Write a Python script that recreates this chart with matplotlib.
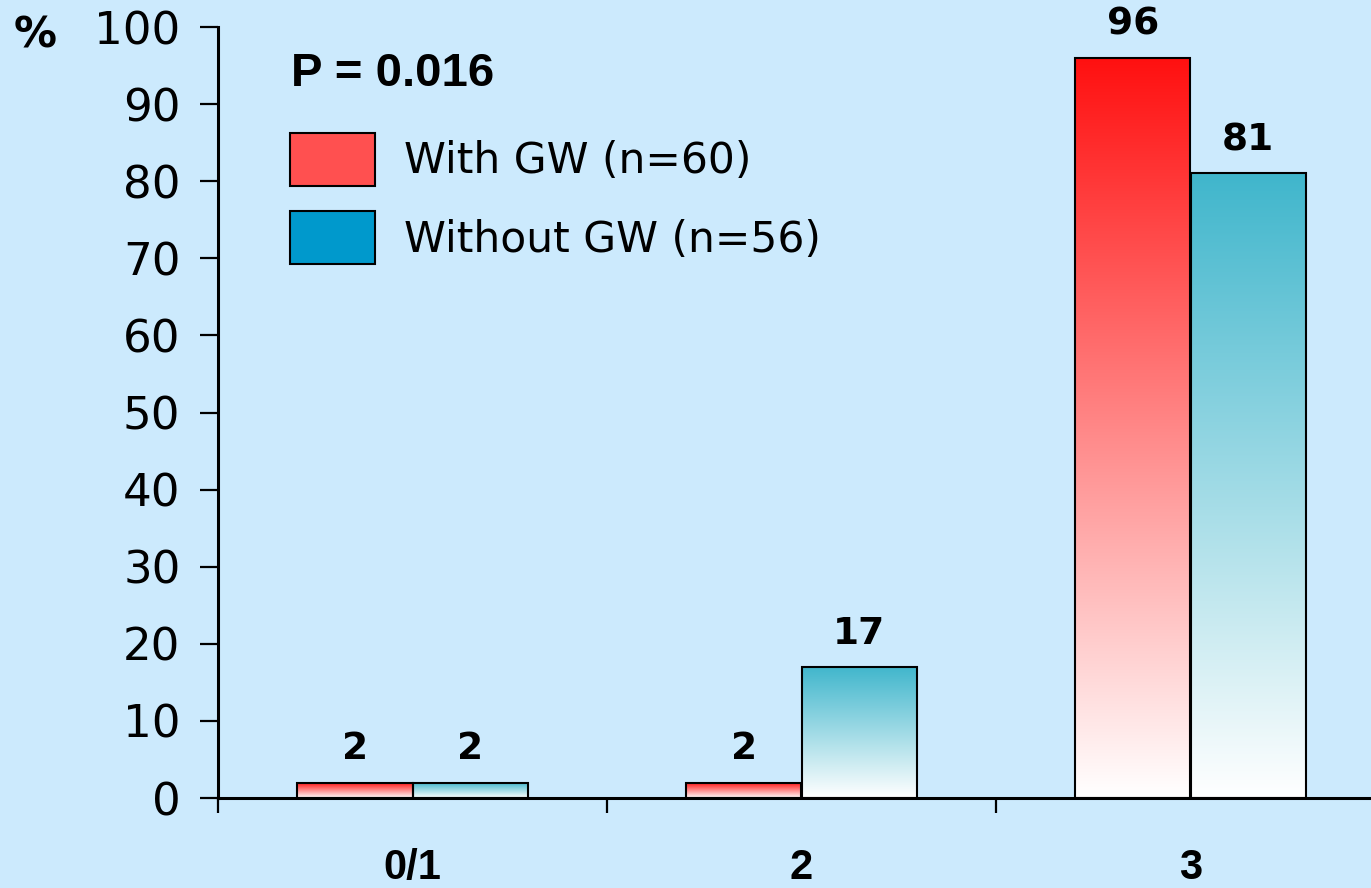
import numpy as np
import matplotlib
matplotlib.use("Agg")
import matplotlib.pyplot as plt
from matplotlib.patches import Patch
from matplotlib.colors import to_rgb

# data
categories = ["0/1", "2", "3"]
with_gw = [2, 2, 96]
without_gw = [2, 17, 81]
series_names = ["With GW (n=60)", "Without GW (n=56)"]
p_text = "P = 0.016"

bg = "#cceafd"
red_top = "#ff1010"
teal_top = "#40b6cc"
red_legend = "#ff5050"
teal_legend = "#0099cc"

fig = plt.figure(figsize=(13.71, 8.88), dpi=100, facecolor=bg)
ax = fig.add_axes([218 / 1371, 90 / 888, 1153 / 1371, 771 / 888])
ax.set_facecolor(bg)


def gradient_bar(x0, w, h, top_color):
    # vertical fade: colour at the top, white at the bottom
    top = np.array(to_rgb(top_color))
    t = np.linspace(1, 0, 256)[:, None]
    img = t * top + (1 - t) * np.ones(3)
    img = img[:, None, :]
    ax.imshow(img, extent=[x0, x0 + w, 0, h], aspect="auto", origin="upper",
              interpolation="bilinear", zorder=2)


width = 0.296
centers = np.arange(len(categories)) + 0.5
for vals, off, col in [(with_gw, -width / 2, red_top), (without_gw, width / 2, teal_top)]:
    xs = centers + off
    for x, v in zip(xs, vals):
        gradient_bar(x - width / 2, width, v, col)
    ax.bar(xs, vals, width, facecolor="none", edgecolor="black", linewidth=1.5, zorder=3)
    for x, v in zip(xs, vals):
        ax.annotate(str(v), (x, v), xytext=(0, 11), textcoords="offset points",
                    ha="center", va="bottom", fontsize=27, fontweight="bold",
                    family="DejaVu Sans", annotation_clip=False)

ax.set_xlim(0, 1153 / 389)
ax.set_ylim(0, 100)

for s in ["top", "right"]:
    ax.spines[s].set_visible(False)
for s in ["left", "bottom"]:
    ax.spines[s].set_linewidth(2.2)
ax.spines["bottom"].set_zorder(4)

ax.set_yticks(range(0, 101, 10))
ax.tick_params(axis="y", length=13, width=1.6, pad=14, labelsize=32.5)
ax.set_xticks([0, 1, 2])
ax.set_xticklabels([])
ax.tick_params(axis="x", which="major", length=11, width=1.6)
ax.set_xticks(centers, minor=True)
ax.set_xticklabels(categories, minor=True, fontsize=30, fontweight="bold",
                   family="Liberation Sans")
ax.tick_params(axis="x", which="minor", length=0, pad=36)

ax.text(0.063, 0.939, p_text, transform=ax.transAxes, fontsize=34,
        fontweight="bold", family="Liberation Sans", va="center", ha="left")
fig.text(35 / 1371, 1 - 35 / 888, "%", fontsize=31, fontweight="bold",
         ha="center", va="center")

handles = [Patch(facecolor=red_legend, edgecolor="black", linewidth=1.5),
           Patch(facecolor=teal_legend, edgecolor="black", linewidth=1.5)]
ax.legend(handles, series_names, loc="upper left", bbox_to_anchor=(0.0624, 0.863),
          frameon=False, fontsize=30.5, handlelength=2.0, handleheight=1.55,
          handletextpad=0.7, labelspacing=0.6, borderpad=0, borderaxespad=0)

fig.savefig("out.png", dpi=100, facecolor=bg)
